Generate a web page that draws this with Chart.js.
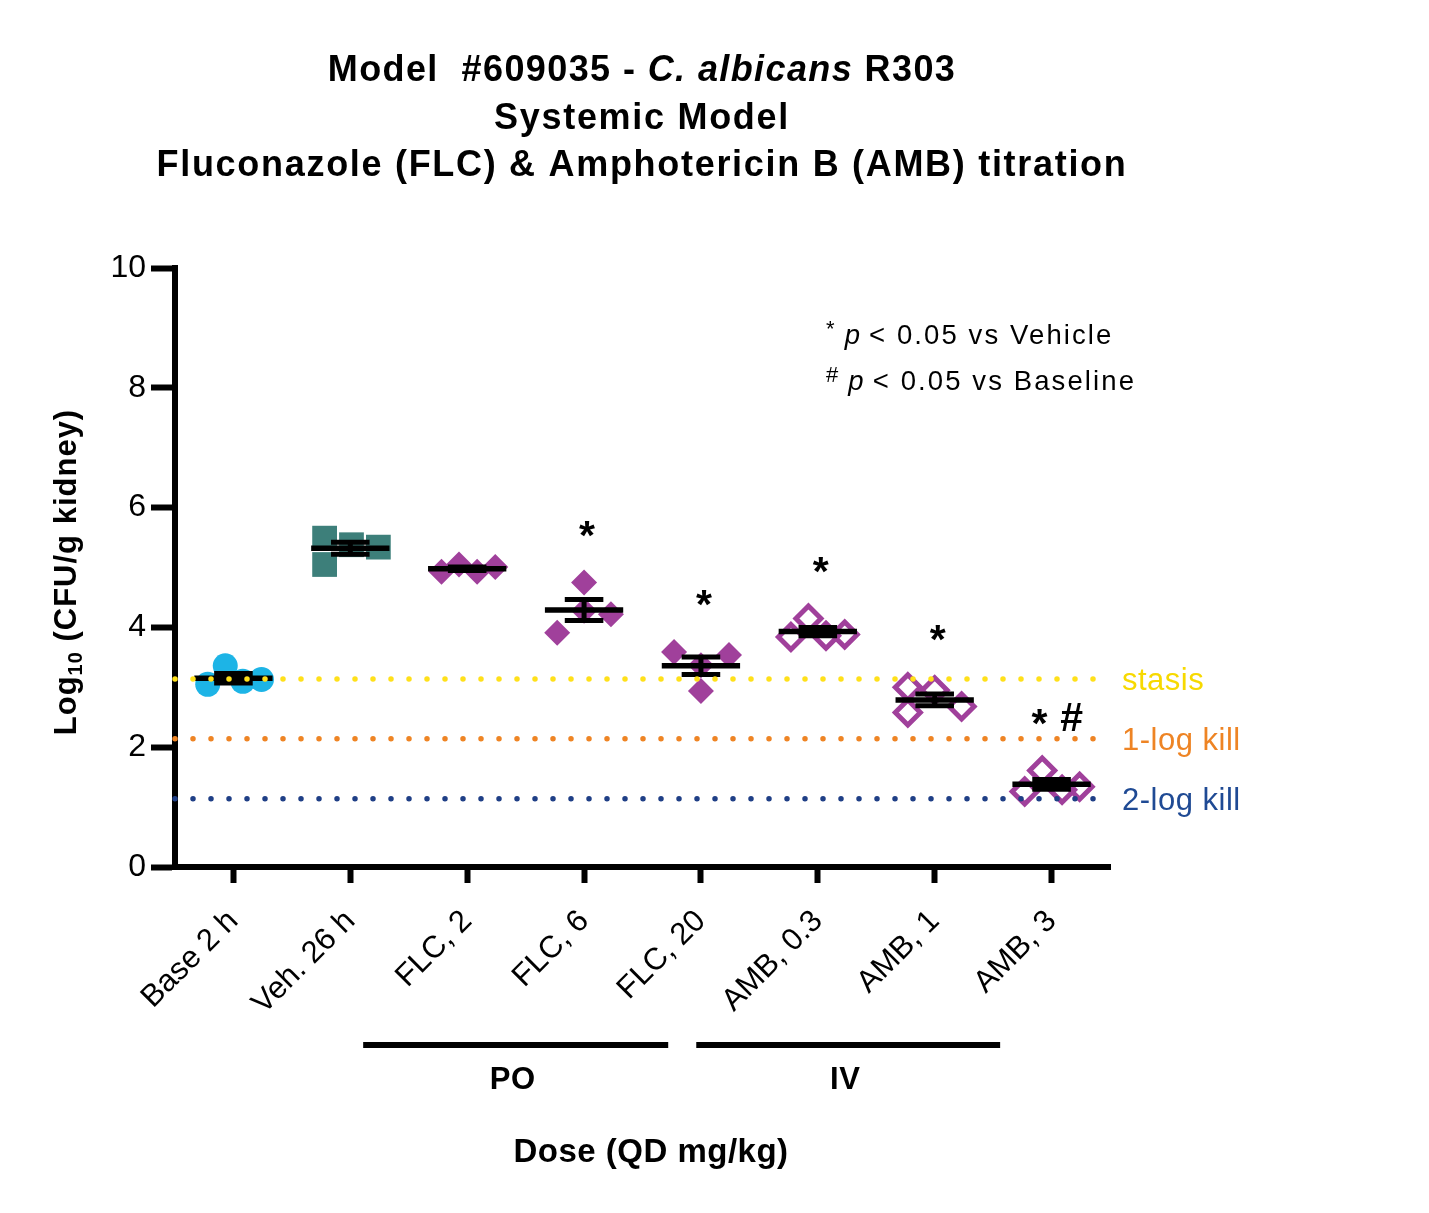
<!DOCTYPE html>
<html><head><meta charset="utf-8">
<script src="https://cdn.jsdelivr.net/npm/chart.js@4.4.1/dist/chart.umd.min.js"></script>
<style>html,body{margin:0;padding:0;background:#fff;}canvas{display:block;}</style>
</head><body>
<canvas id="c" width="1429" height="1213"></canvas>
<script>
// ---------- data ----------
const categories = ["Base 2 h","Veh. 26 h","FLC, 2","FLC, 6","FLC, 20","AMB, 0.3","AMB, 1","AMB, 3"];
const baseValues  = [3.05, 3.36, 3.10, 3.13];
const vehValues   = [5.49, 5.05, 5.38, 5.34];
const flc2Values  = [4.93, 5.05, 4.93, 5.01];
const flc6Values  = [3.91, 4.75, 4.28, 4.22];
const flc20Values = [3.59, 2.94, 3.37, 3.54];
const amb03Values = [3.84, 4.15, 3.86, 3.88];
const amb1Values  = [3.00, 2.58, 2.95, 2.68];
const amb3Values  = [1.26, 1.61, 1.29, 1.34];
// horizontal jitter of each point (category units)
const baseJitter  = [-0.22, -0.07, 0.08, 0.24];
const vehJitter   = [-0.22, -0.22, 0.01, 0.24];
const flc2Jitter  = [-0.22, -0.07, 0.085, 0.24];
const flc6Jitter  = [-0.23, 0.0, 0.0, 0.23];
const flc20Jitter = [-0.23, 0.0, 0.0, 0.24];
const amb03Jitter = [-0.23, -0.08, 0.07, 0.23];
const amb1Jitter  = [-0.23, -0.23, 0.0, 0.23];
const amb3Jitter  = [-0.23, -0.08, 0.09, 0.24];
const groupMeans = [3.15, 5.32, 4.98, 4.29, 3.36, 3.93, 2.79, 1.38];
const groupSEM   = [0.08, 0.10, 0.03, 0.175, 0.145, 0.07, 0.10, 0.08];
const yTicks = [0, 2, 4, 6, 8, 10];
const refLevels = [3.14, 2.14, 1.14];
const refLabels = ["stasis", "1-log kill", "2-log kill"];
const sigMarks = ["", "", "", "*", "*", "*", "*", "* #"];

// ---------- styles ----------
const FONT = "'Liberation Sans', Arial, Helvetica, sans-serif";
const refColors = ["#FFE01A", "#EE8424", "#1F3F86"];
const refTextColors = ["#F7D900", "#EE8424", "#1F4A94"];
Chart.defaults.font.family = FONT;
Chart.defaults.color = "#000";

function pts(vals, jit, i) { return vals.map((v, k) => ({ x: i + jit[k], y: v })); }

const meanData = [];
const semData = [];
groupMeans.forEach((m, i) => {
  const s = groupSEM[i];
  meanData.push({ x: i - 0.335, y: m }, { x: i + 0.335, y: m }, { x: i, y: null });
  semData.push({ x: i, y: m - s }, { x: i, y: m + s }, { x: i, y: null });
  semData.push({ x: i - 0.165, y: m + s }, { x: i + 0.165, y: m + s }, { x: i, y: null });
  semData.push({ x: i - 0.165, y: m - s }, { x: i + 0.165, y: m - s }, { x: i, y: null });
});

const groupValues = [baseValues, vehValues, flc2Values, flc6Values, flc20Values, amb03Values, amb1Values, amb3Values];

const refDatasets = refLevels.map((lvl, k) => ({
  type: "line",
  data: [{ x: -0.5, y: lvl }, { x: 7.42, y: lvl }],
  borderColor: refColors[k],
  borderWidth: 5.5,
  borderDash: [0, 18],
  borderCapStyle: "round",
  pointRadius: 0,
  order: 0,
  clip: false
}));

const textPlugin = {
  id: "texts",
  afterDraw(chart) {
    const ctx = chart.ctx;
    const xs = chart.scales.x, ys = chart.scales.y;
    ctx.save();
    ctx.fillStyle = "#000";
    ctx.textBaseline = "alphabetic";

    // Title
    function drawMixed(parts, cx, y, spacing) {
      ctx.letterSpacing = spacing + "px";
      let total = 0;
      parts.forEach(p => { ctx.font = p.font; total += ctx.measureText(p.t).width; });
      let x = cx - total / 2;
      ctx.textAlign = "left";
      parts.forEach(p => { ctx.font = p.font; ctx.fillText(p.t, x, y); x += ctx.measureText(p.t).width; });
    }
    const tb = "bold 36px " + FONT, ti = "italic bold 36px " + FONT;
    drawMixed([{ t: "Model  #609035 - ", font: tb }, { t: "C. albicans", font: ti }, { t: " R303", font: tb }], 642, 81, 1.4);
    drawMixed([{ t: "Systemic Model", font: tb }], 642, 129, 1.7);
    drawMixed([{ t: "Fluconazole (FLC) & Amphotericin B (AMB) titration", font: tb }], 642, 176, 1.7);

    // Y axis title with subscript
    ctx.save();
    ctx.translate(76, 572);
    ctx.rotate(-Math.PI / 2);
    const yparts = [
      { t: "Log", font: "bold 31px " + FONT, dy: 0 },
      { t: "10", font: "bold 20px " + FONT, dy: 6 },
      { t: " (CFU/g kidney)", font: "bold 31px " + FONT, dy: 0 }
    ];
    ctx.letterSpacing = "1px";
    let tw = 0;
    yparts.forEach(p => { ctx.font = p.font; tw += ctx.measureText(p.t).width; });
    let px = -tw / 2;
    ctx.textAlign = "left";
    yparts.forEach(p => { ctx.font = p.font; ctx.fillText(p.t, px, p.dy); px += ctx.measureText(p.t).width; });
    ctx.restore();

    // X axis title
    ctx.letterSpacing = "0.5px";
    ctx.textAlign = "center";
    ctx.font = "bold 33px " + FONT;
    ctx.fillText("Dose (QD mg/kg)", 651, 1162);

    // PO / IV brackets
    ctx.strokeStyle = "#000";
    ctx.lineWidth = 6;
    const brackets = [{ a: 1.11, b: 3.72, label: "PO" }, { a: 3.96, b: 6.56, label: "IV" }];
    brackets.forEach(br => {
      const x1 = xs.getPixelForValue(br.a), x2 = xs.getPixelForValue(br.b);
      ctx.beginPath(); ctx.moveTo(x1, 1045); ctx.lineTo(x2, 1045); ctx.stroke();
      ctx.font = "bold 31px " + FONT;
      ctx.fillText(br.label, (x1 + x2) / 2 - 3, 1089);
    });

    // significance marks
    ctx.font = "bold 41px " + FONT;
    ctx.letterSpacing = "0px";
    sigMarks.forEach((mk, i) => {
      if (!mk) return;
      const vmax = Math.max(...groupValues[i]);
      const cy = ys.getPixelForValue(vmax + 0.9);
      const chars = mk.split(" ");
      const gap = 32;
      const startX = xs.getPixelForValue(i) - gap * (chars.length - 1) / 2 + (chars.length === 1 ? 3 : 4);
      chars.forEach((ch, k) => {
        const m = ctx.measureText(ch);
        const off = (m.actualBoundingBoxAscent - m.actualBoundingBoxDescent) / 2;
        ctx.textAlign = "center";
        ctx.fillText(ch, startX + gap * k, cy + off);
      });
    });

    // reference line labels
    ctx.textAlign = "left";
    ctx.font = "31px " + FONT;
    ctx.letterSpacing = "0.5px";
    refLevels.forEach((lvl, k) => {
      ctx.fillStyle = refTextColors[k];
      ctx.fillText(refLabels[k], 1122, ys.getPixelForValue(lvl) + 11);
    });

    // p-value legend
    ctx.fillStyle = "#000";
    ctx.letterSpacing = "2.1px";
    const legendRows = [{ sym: "*", text: "vs Vehicle", y: 344 }, { sym: "#", text: "vs Baseline", y: 390 }];
    legendRows.forEach(r => {
      let x = 826;
      ctx.font = "22px " + FONT;
      ctx.fillText(r.sym, x, r.y - 8);
      x += ctx.measureText(r.sym).width + 8;
      ctx.font = "italic 27.5px " + FONT;
      ctx.fillText("p", x, r.y);
      x += ctx.measureText("p").width + 7;
      ctx.font = "27.5px " + FONT;
      ctx.fillText("< 0.05 " + r.text, x, r.y);
    });
    ctx.restore();
  }
};

new Chart(document.getElementById("c"), {
  type: "scatter",
  data: {
    datasets: [
      ...refDatasets,
      { type: "line", data: meanData, borderColor: "#000", borderWidth: 5.5, pointRadius: 0, spanGaps: false, order: 1, borderCapStyle: "butt" },
      { type: "line", data: semData, borderColor: "#000", borderWidth: 5, pointRadius: 0, spanGaps: false, order: 1, borderCapStyle: "butt" },
      { data: pts(baseValues, baseJitter, 0), pointStyle: "circle", pointRadius: 12.5, backgroundColor: "#1DB4E6", borderWidth: 0, order: 2 },
      { data: pts(vehValues, vehJitter, 1), pointStyle: "rect", pointRadius: 17.5, backgroundColor: "#3D7F7A", borderWidth: 0, order: 2 },
      { data: [...pts(flc2Values, flc2Jitter, 2), ...pts(flc6Values, flc6Jitter, 3), ...pts(flc20Values, flc20Jitter, 4)],
        pointStyle: "rectRot", pointRadius: 13, backgroundColor: "#A0409B", borderWidth: 0, order: 2 },
      { data: [...pts(amb03Values, amb03Jitter, 5), ...pts(amb1Values, amb1Jitter, 6), ...pts(amb3Values, amb3Jitter, 7)],
        pointStyle: "rectRot", pointRadius: 12.5, backgroundColor: "rgba(255,255,255,0)", borderColor: "#A0409B", borderWidth: 5, order: 2 }
    ]
  },
  options: {
    responsive: false,
    animation: false,
    devicePixelRatio: 1,
    layout: { padding: { top: 268, right: 319, left: 0, bottom: 0 } },
    plugins: { legend: { display: false }, tooltip: { enabled: false }, title: { display: false } },
    scales: {
      x: {
        type: "linear", min: -0.5, max: 7.5,
        afterBuildTicks: s => { s.ticks = categories.map((_, i) => ({ value: i })); },
        afterFit: s => { s.height = 346; },
        ticks: { callback: v => categories[v], minRotation: 45, maxRotation: 45, autoSkip: false, font: { size: 31 }, color: "#000", padding: 20 },
        grid: { display: true, drawOnChartArea: false, drawTicks: true, tickLength: 16, tickWidth: 6, tickColor: "#000" },
        border: { display: true, width: 6, color: "#000" }
      },
      y: {
        type: "linear", min: 0, max: 10,
        afterBuildTicks: s => { s.ticks = yTicks.map(v => ({ value: v })); },
        afterFit: s => { s.width = 175; },
        ticks: { font: { size: 32 }, color: "#000", padding: 5 },
        grid: { display: true, drawOnChartArea: false, drawTicks: true, tickLength: 24, tickWidth: 6, tickColor: "#000" },
        border: { display: true, width: 6, color: "#000" }
      }
    }
  },
  plugins: [textPlugin]
});
</script>
</body></html>
